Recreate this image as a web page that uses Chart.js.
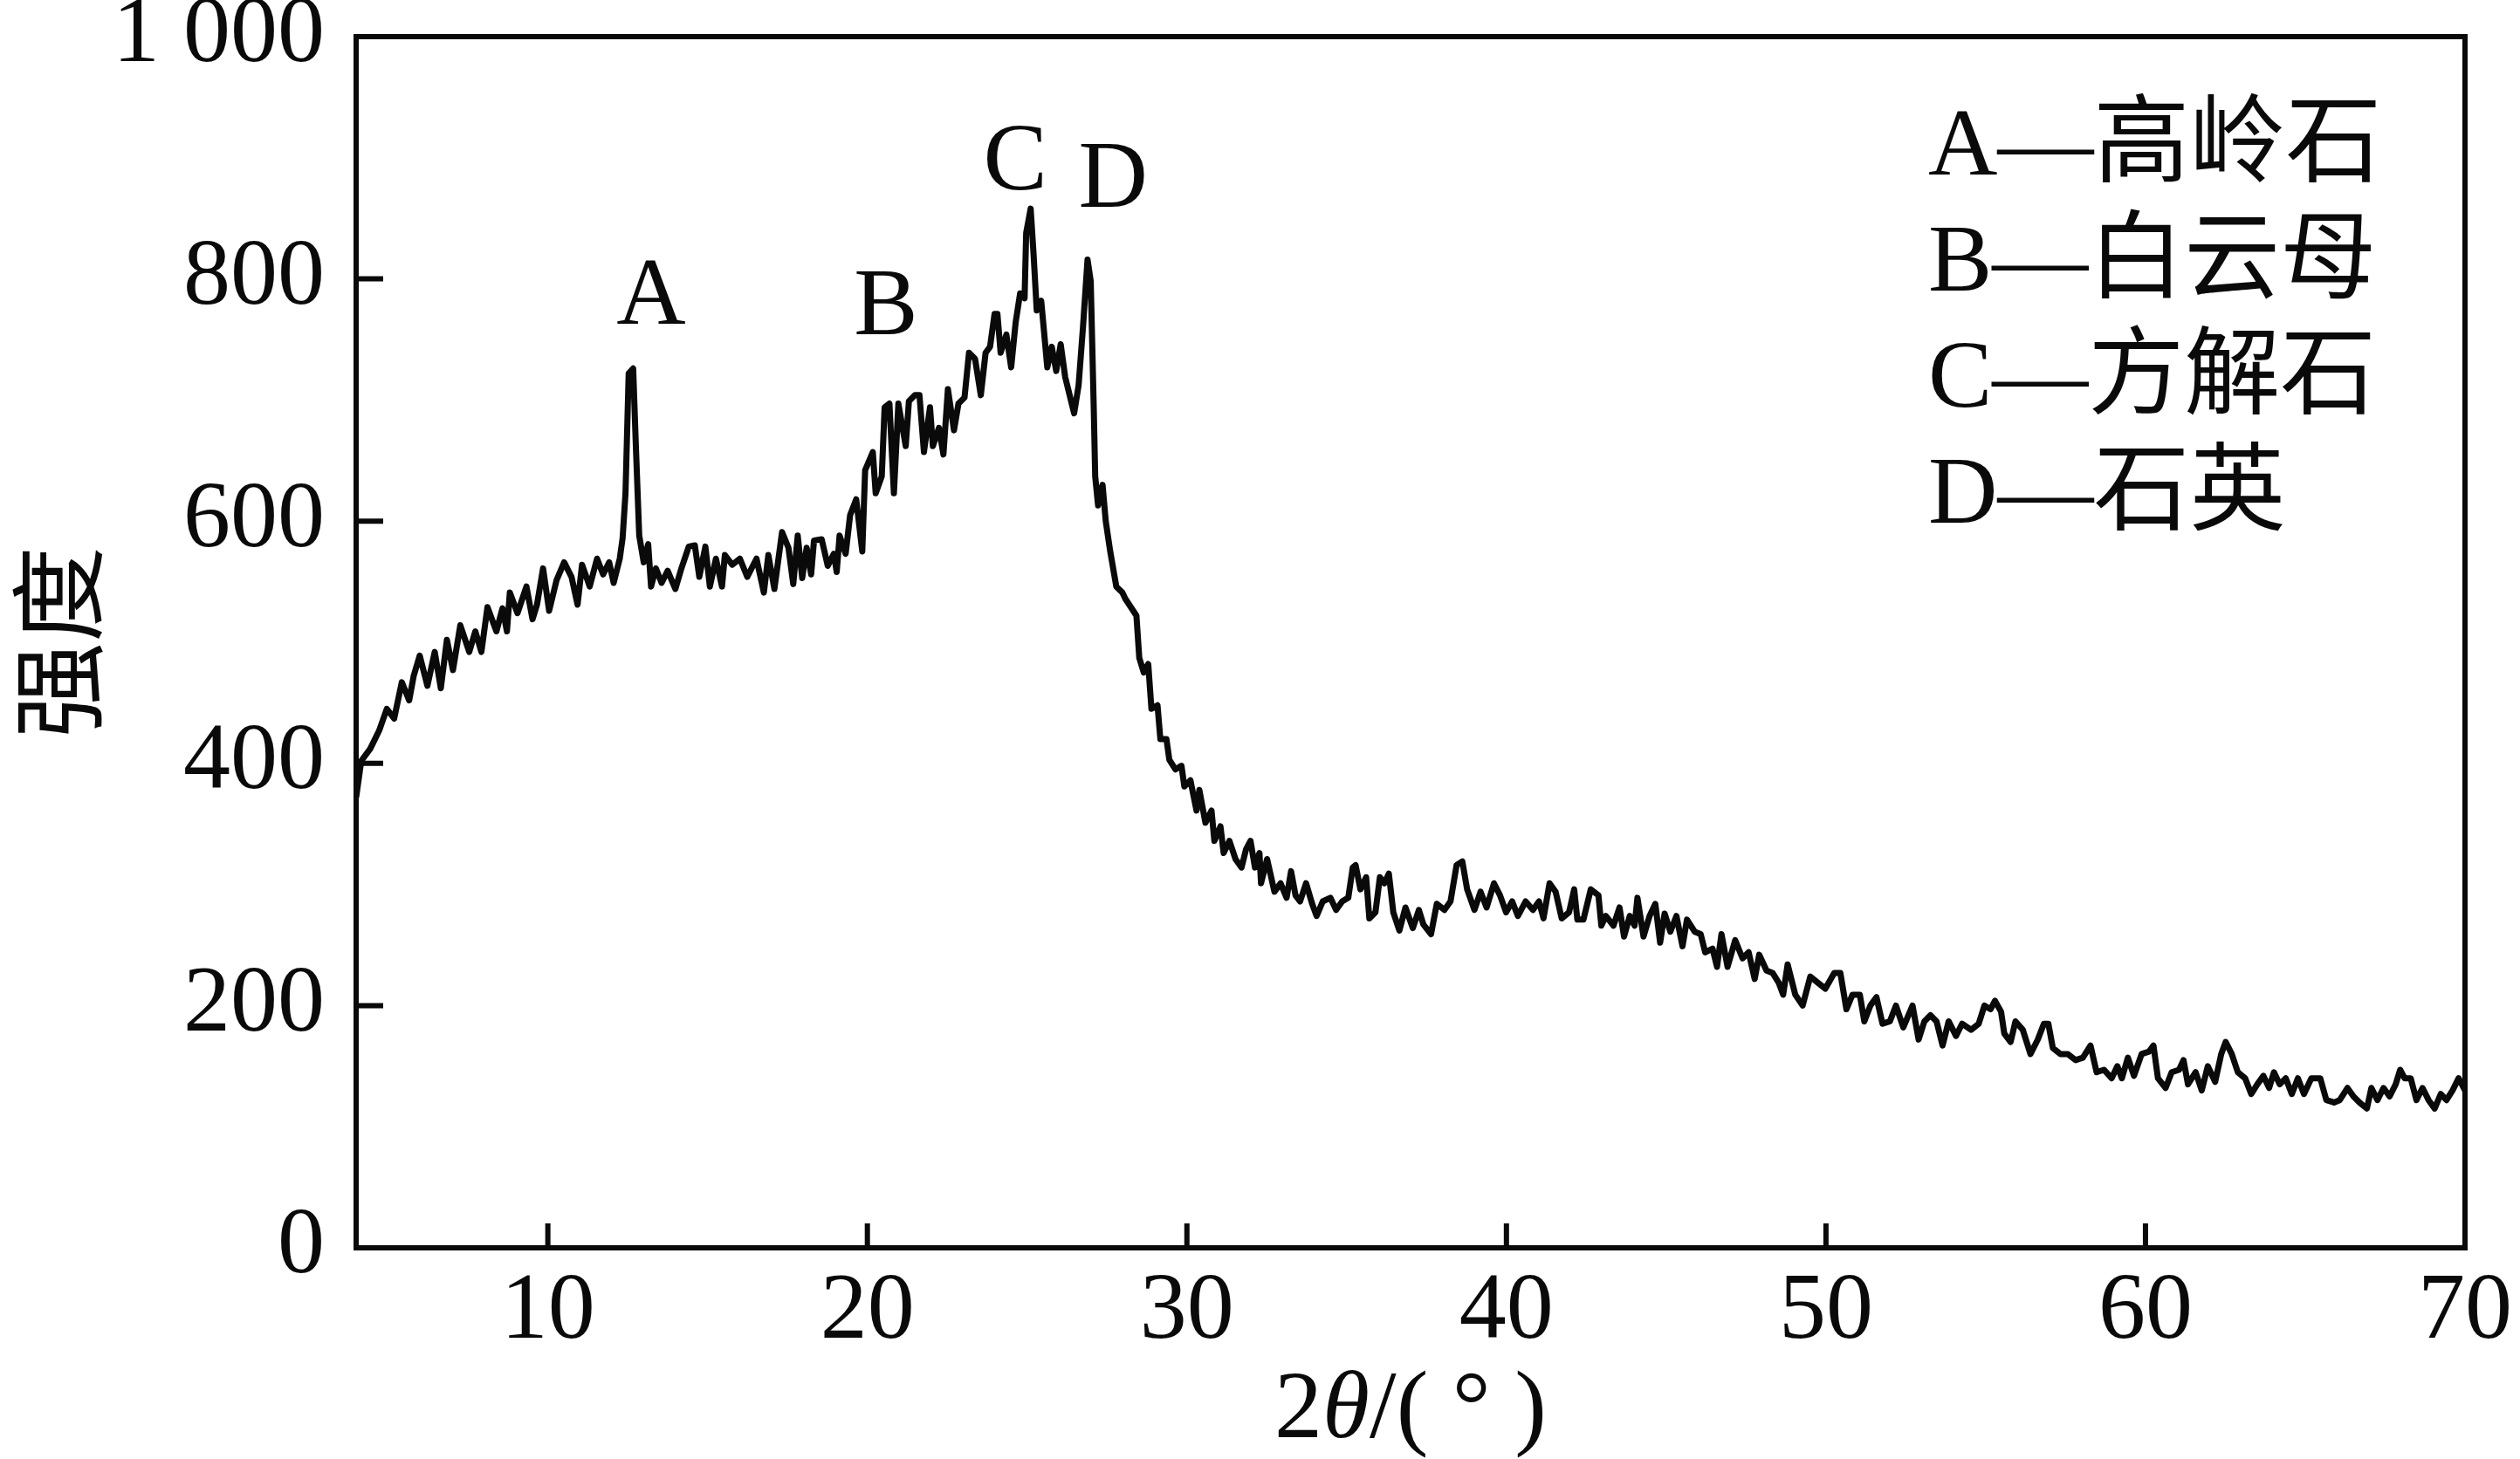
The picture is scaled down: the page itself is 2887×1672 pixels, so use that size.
<!DOCTYPE html>
<html>
<head>
<meta charset="utf-8">
<script src="https://cdn.jsdelivr.net/npm/chart.js@4.4.1/dist/chart.umd.min.js"></script>
<style>
  html, body { margin: 0; padding: 0; background: #fff; }
  #wrap { width: 2887px; height: 1672px; position: relative; }
</style>
</head>
<body>
<div id="wrap"><canvas id="xrd"></canvas></div>
<script>
// 2θ (°) positions
const twoTheta = [
  4.0, 4.16, 4.44, 4.72, 4.96, 5.19, 5.43, 5.66, 5.8, 5.99,
  6.23, 6.46, 6.65, 6.84, 7.03, 7.26, 7.54, 7.73, 7.92, 8.11,
  8.39, 8.58, 8.72, 8.81, 9.05, 9.33, 9.52, 9.66, 9.85, 10.04,
  10.27, 10.51, 10.74, 10.93, 11.07, 11.31, 11.54, 11.73, 11.92, 12.06,
  12.25, 12.34, 12.43, 12.53, 12.67, 12.76, 12.86, 13.0, 13.14, 13.23,
  13.38, 13.56, 13.75, 13.99, 14.18, 14.41, 14.6, 14.74, 14.93, 15.07,
  15.26, 15.45, 15.54, 15.77, 16.01, 16.24, 16.53, 16.76, 16.9, 17.09,
  17.33, 17.53, 17.68, 17.82, 17.96, 18.1, 18.24, 18.33, 18.57, 18.76,
  18.95, 19.04, 19.13, 19.32, 19.46, 19.65, 19.84, 19.93, 20.17, 20.26,
  20.45, 20.54, 20.69, 20.83, 20.97, 21.2, 21.3, 21.49, 21.63, 21.77,
  21.96, 22.05, 22.24, 22.38, 22.52, 22.71, 22.85, 23.04, 23.18, 23.37,
  23.55, 23.7, 23.84, 23.98, 24.07, 24.17, 24.35, 24.5, 24.64, 24.78,
  24.92, 24.97, 25.11, 25.2, 25.3, 25.44, 25.53, 25.63, 25.77, 25.91,
  26.05, 26.19, 26.33, 26.47, 26.61, 26.75, 26.89, 26.99, 27.08, 27.13,
  27.22, 27.36, 27.46, 27.6, 27.79, 27.98, 28.07, 28.42, 28.51, 28.65,
  28.79, 28.89, 29.08, 29.17, 29.36, 29.45, 29.64, 29.83, 29.92, 30.11,
  30.3, 30.39, 30.58, 30.77, 30.86, 31.05, 31.15, 31.33, 31.52, 31.71,
  31.85, 31.99, 32.13, 32.27, 32.32, 32.51, 32.74, 32.93, 33.12, 33.26,
  33.4, 33.54, 33.73, 33.92, 34.06, 34.25, 34.49, 34.67, 34.86, 35.05,
  35.19, 35.28, 35.43, 35.61, 35.71, 35.9, 36.04, 36.18, 36.32, 36.46,
  36.65, 36.84, 37.07, 37.26, 37.4, 37.64, 37.82, 38.06, 38.25, 38.44,
  38.62, 38.77, 39.0, 39.19, 39.38, 39.61, 39.8, 39.99, 40.18, 40.36,
  40.6, 40.83, 41.02, 41.16, 41.35, 41.54, 41.73, 41.96, 42.12, 42.22,
  42.41, 42.64, 42.88, 42.97, 43.11, 43.35, 43.54, 43.68, 43.86, 44.01,
  44.1, 44.29, 44.48, 44.66, 44.81, 44.95, 45.13, 45.32, 45.51, 45.65,
  45.89, 46.08, 46.22, 46.45, 46.59, 46.73, 46.92, 47.16, 47.39, 47.58,
  47.77, 47.91, 48.14, 48.33, 48.52, 48.66, 48.8, 49.04, 49.27, 49.51,
  49.74, 49.98, 50.26, 50.45, 50.64, 50.83, 51.06, 51.2, 51.39, 51.58,
  51.77, 52.0, 52.19, 52.42, 52.71, 52.9, 53.08, 53.27, 53.46, 53.65,
  53.84, 54.07, 54.26, 54.54, 54.78, 54.96, 55.15, 55.29, 55.48, 55.58,
  55.78, 55.93, 56.16, 56.4, 56.63, 56.82, 56.96, 57.1, 57.34, 57.57,
  57.81, 58.04, 58.28, 58.47, 58.7, 58.94, 59.12, 59.26, 59.45, 59.64,
  59.88, 60.11, 60.25, 60.39, 60.63, 60.82, 61.05, 61.19, 61.33, 61.57,
  61.76, 61.95, 62.18, 62.37, 62.51, 62.7, 62.89, 63.12, 63.31, 63.5,
  63.69, 63.87, 64.02, 64.2, 64.39, 64.58, 64.77, 64.96, 65.19, 65.47,
  65.66, 65.9, 66.08, 66.32, 66.51, 66.7, 66.93, 67.07, 67.26, 67.45,
  67.64, 67.83, 67.97, 68.11, 68.3, 68.48, 68.67, 68.86, 69.05, 69.24,
  69.42, 69.61, 69.8, 70.0
];

// intensity at each 2θ above
const intensity = [
  372, 402, 412, 427, 445, 437, 467, 452, 472, 489,
  464, 492, 462, 502, 477, 514, 492, 509, 492, 529,
  509, 528, 509, 541, 524, 546, 519, 531, 561, 526,
  551, 566, 554, 531, 564, 546, 569, 556, 566, 549,
  569, 586, 623, 722, 726, 658, 588, 566, 581, 546,
  561, 549, 559, 544, 561, 579, 580, 554, 579, 546,
  569, 546, 572, 564, 569, 554, 569, 541, 572, 544,
  591, 578, 548, 588, 553, 578, 556, 584, 585, 563,
  573, 558, 588, 573, 605, 618, 575, 642, 657, 623,
  637, 694, 697, 623, 697, 662, 699, 704, 704, 657,
  694, 662, 677, 655, 709, 675, 697, 702, 739, 734,
  704, 739, 744, 771, 771, 739, 754, 727, 764, 788,
  784, 838, 858, 821, 774, 782, 756, 727, 744, 724,
  746, 719, 704, 689, 712, 761, 816, 798, 699, 637,
  613, 630, 600, 575, 546, 541, 536, 522, 487, 475,
  482, 445, 448, 420, 420, 403, 395, 398, 381, 386,
  361, 378, 351, 361, 336, 348, 326, 336, 321, 314,
  329, 336, 314, 326, 301, 321, 294, 301, 289, 311,
  291, 286, 301, 284, 274, 286, 289, 279, 286, 289,
  314, 316, 296, 306, 272, 277, 306, 301, 309, 277,
  262, 281, 264, 279, 267, 259, 284, 279, 286, 316,
  319, 296, 279, 294, 281, 301, 291, 277, 286, 274,
  286, 279, 286, 272, 301, 294, 272, 277, 296, 271,
  271, 296, 291, 266, 274, 266, 281, 257, 274, 266,
  289, 257, 274, 284, 252, 276, 261, 274, 249, 271,
  261, 259, 244, 247, 232, 259, 232, 254, 239, 244,
  222, 242, 229, 227, 219, 209, 234, 209, 200, 224,
  219, 214, 227, 227, 197, 209, 209, 187, 200, 207,
  185, 187, 200, 182, 200, 172, 187, 192, 187, 167,
  187, 175, 185, 180, 185, 200, 197, 204, 195, 177,
  170, 187, 180, 160, 172, 185, 185, 165, 160, 160,
  155, 157, 167, 145, 147, 140, 150, 140, 157, 142,
  160, 162, 167, 140, 132, 145, 147, 155, 135, 145,
  130, 150, 137, 160, 170, 160, 145, 140, 127, 135,
  142, 132, 145, 135, 140, 127, 140, 127, 140, 140,
  122, 120, 122, 132, 125, 120, 115, 132, 122, 132,
  125, 135, 147, 140, 140, 122, 132, 122, 115, 127,
  122, 130, 140, 130
];

const xTickValues = [10, 20, 30, 40, 50, 60, 70];
const yTickValues = [0, 200, 400, 600, 800, 1000];
const yTickLabels = ['0', '200', '400', '600', '800', '1 000'];

// peak markers and what they stand for
const peakLetters = ['A', 'B', 'C', 'D'];
const mineralNames = ['高岭石', '白云母', '方解石', '石英'];
const peakLabelX = [13.23, 20.58, 24.63, 27.69];
const peakLabelY = [784, 775, 895, 880];

const ink = '#0a0a0a';
const serif = '"Liberation Serif", "Times New Roman", serif';

const framePlugin = {
    id: 'frame',
    afterDatasetsDraw(chart) {
        const { ctx, chartArea: a, scales: { x, y } } = chart;
        ctx.save();
        ctx.strokeStyle = ink;
        ctx.fillStyle = ink;
        ctx.lineWidth = 6;
        ctx.strokeRect(a.left, a.top, a.right - a.left, a.bottom - a.top);

        // inward tick marks
        ctx.beginPath();
        xTickValues.forEach(v => {
            const px = x.getPixelForValue(v);
            ctx.moveTo(px, a.bottom);
            ctx.lineTo(px, a.bottom - 28);
        });
        yTickValues.forEach(v => {
            const py = y.getPixelForValue(v);
            ctx.moveTo(a.left, py);
            ctx.lineTo(a.left + 31, py);
        });
        ctx.stroke();

        // letters over the peaks
        ctx.font = '110px ' + serif;
        ctx.textAlign = 'center';
        ctx.textBaseline = 'middle';
        peakLetters.forEach((t, i) => {
            ctx.fillText(t, x.getPixelForValue(peakLabelX[i]), y.getPixelForValue(peakLabelY[i]));
        });

        // key in the top right corner
        ctx.textAlign = 'left';
        ctx.font = '110px "Liberation Serif", "Noto Sans CJK SC", serif';
        peakLetters.forEach((t, i) => {
            ctx.fillText(t + '—' + mineralNames[i], a.right - 615, a.top + 129 + i * 133);
        });

        // x title: 2θ/(°) with italic theta
        const parts = [
            ['2', '110px ' + serif],
            ['θ', 'italic 110px ' + serif],
            ['/( ° )', '110px ' + serif]
        ];
        let total = 0;
        parts.forEach(p => { ctx.font = p[1]; total += ctx.measureText(p[0]).width; });
        let cx = (a.left + a.right) / 2 - total / 2;
        const ty = a.bottom + 188;
        parts.forEach(p => {
            ctx.font = p[1];
            ctx.fillText(p[0], cx, ty);
            cx += ctx.measureText(p[0]).width;
        });
        ctx.restore();
    }
};

new Chart(document.getElementById('xrd'), {
    type: 'line',
    data: {
        datasets: [{
            data: twoTheta.map((t, i) => ({ x: t, y: intensity[i] })),
            borderColor: ink,
            borderWidth: 7,
            borderJoinStyle: 'round',
            pointRadius: 0,
            tension: 0,
            fill: false
        }]
    },
    options: {
        responsive: true,
        maintainAspectRatio: false,
        animation: false,
        layout: { padding: { top: 42, right: 63, left: 0, bottom: 0 } },
        plugins: {
            legend: { display: false },
            tooltip: { enabled: false }
        },
        scales: {
            x: {
                type: 'linear',
                min: 4,
                max: 70,
                afterBuildTicks: s => { s.ticks = xTickValues.map(v => ({ value: v })); },
                afterFit: s => { s.height = 242; s.paddingLeft = 0; s.paddingRight = 0; },
                grid: { display: false },
                border: { display: false },
                ticks: {
                    color: ink,
                    padding: 2,
                    maxRotation: 0,
                    autoSkip: false,
                    font: { family: serif, size: 108 }
                }
            },
            y: {
                min: 0,
                max: 1000,
                afterBuildTicks: s => { s.ticks = yTickValues.map(v => ({ value: v })); },
                afterFit: s => { s.width = 408; s.paddingTop = 0; s.paddingBottom = 0; },
                grid: { display: false },
                border: { display: false },
                ticks: {
                    color: ink,
                    padding: 28,
                    font: { family: serif, size: 108 },
                    callback: v => yTickLabels[yTickValues.indexOf(v)]
                },
                title: {
                    display: true,
                    text: '强度',
                    color: ink,
                    padding: 0,
                    font: { family: '"Noto Sans CJK SC", sans-serif', size: 110 }
                }
            }
        }
    },
    plugins: [framePlugin]
});
</script>
</body>
</html>
